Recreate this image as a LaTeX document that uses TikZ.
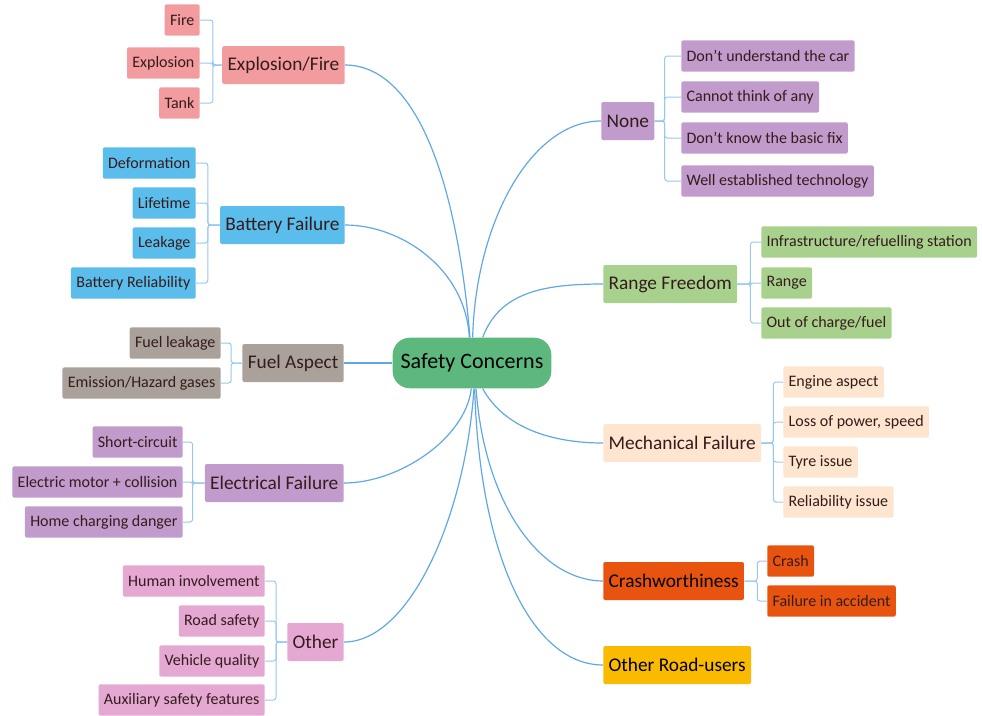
\documentclass[tikz,border=0pt]{standalone}
\usepackage{fontspec}
\setmainfont{Carlito}
\definecolor{hubgreen}{RGB}{92,184,124}
\definecolor{firepink}{RGB}{242,156,160}
\definecolor{battblue}{RGB}{91,189,235}
\definecolor{fuelgray}{RGB}{169,161,154}
\definecolor{elecpurple}{RGB}{192,155,204}
\definecolor{otherpink}{RGB}{228,168,210}
\definecolor{rangegreen}{RGB}{169,209,142}
\definecolor{mechpeach}{RGB}{253,229,207}
\definecolor{crashred}{RGB}{232,84,15}
\definecolor{roadyellow}{RGB}{250,186,0}
\definecolor{txtbrown}{RGB}{52,28,28}
\definecolor{linkblue}{RGB}{95,168,232}
\definecolor{bracketblue}{RGB}{150,200,240}
\begin{document}
\begin{tikzpicture}[x=0.75pt,y=-0.75pt]
    \tikzset{
        hub/.style={fill=hubgreen, rounded corners=13pt, minimum height=38pt, inner xsep=6pt, font=\fontsize{16.5}{20}\selectfont, text=black},
        topic/.style={rounded corners=1.5pt, minimum height=28.5pt, inner xsep=4pt, font=\fontsize{14.5}{17}\selectfont, text=txtbrown},
        sub/.style={rounded corners=1.5pt, minimum height=23.5pt, inner xsep=4pt, font=\fontsize{12}{14}\selectfont, text=txtbrown},
        branch/.style={draw=linkblue, line width=0.9pt},
        bracket/.style={draw=bracketblue, line width=0.75pt, rounded corners=2pt}
    }
    \useasboundingbox (0,0) rectangle (982,715);
    % centre
    \node[hub] (sc) at (472,363) {Safety Concerns};
    % left topics
    \node[topic, fill=firepink, anchor=east] (expl) at (345,65) {Explosion/Fire};
    \node[topic, fill=battblue, anchor=east] (batt) at (345,225) {Battery Failure};
    \node[topic, fill=fuelgray, anchor=east] (fuel) at (344,363) {Fuel Aspect};
    \node[topic, fill=elecpurple, anchor=east] (elec) at (344,483) {Electrical Failure};
    \node[topic, fill=otherpink, anchor=east] (other) at (344,642) {Other};
    % right topics
    \node[topic, fill=elecpurple, anchor=west] (none) at (601,121) {None};
    \node[topic, fill=rangegreen, anchor=west] (range) at (603,284) {Range Freedom};
    \node[topic, fill=mechpeach, anchor=west] (mech) at (603,443) {Mechanical Failure};
    \node[topic, fill=crashred, anchor=west, text=black] (crash) at (603,581) {Crashworthiness};
    \node[topic, fill=roadyellow, anchor=west, text=black] (road) at (603,665) {Other Road-users};
    % explosion/fire items
    \node[sub, fill=firepink, anchor=east] (fire) at (200,20) {Fire};
    \node[sub, fill=firepink, anchor=east] (blast) at (200,63) {Explosion};
    \node[sub, fill=firepink, anchor=east] (tank) at (200,103) {Tank};
    % battery items
    \node[sub, fill=battblue, anchor=east] (deform) at (196,163) {Deformation};
    \node[sub, fill=battblue, anchor=east] (life) at (196,203) {Lifetime};
    \node[sub, fill=battblue, anchor=east] (leak) at (196,243) {Leakage};
    \node[sub, fill=battblue, anchor=east] (brel) at (196,283) {Battery Reliability};
    % fuel items
    \node[sub, fill=fuelgray, anchor=east] (fleak) at (221,343) {Fuel leakage};
    \node[sub, fill=fuelgray, anchor=east] (gases) at (221,383) {Emission/Hazard gases};
    % electrical items
    \node[sub, fill=elecpurple, anchor=east] (short) at (183,442) {Short-circuit};
    \node[sub, fill=elecpurple, anchor=east] (motor) at (183,482) {Electric motor + collision};
    \node[sub, fill=elecpurple, anchor=east] (home) at (183,522) {Home charging danger};
    % other items
    \node[sub, fill=otherpink, anchor=east] (human) at (265,581) {Human involvement};
    \node[sub, fill=otherpink, anchor=east] (rsafe) at (265,621) {Road safety};
    \node[sub, fill=otherpink, anchor=east] (vqual) at (265,661) {Vehicle quality};
    \node[sub, fill=otherpink, anchor=east] (aux) at (265,700) {Auxiliary safety features};
    % none items
    \node[sub, fill=elecpurple, anchor=west] (dunder) at (681,56) {Don't understand the car};
    \node[sub, fill=elecpurple, anchor=west] (cthink) at (681,97) {Cannot think of any};
    \node[sub, fill=elecpurple, anchor=west] (dfix) at (681,138) {Don't know the basic fix};
    \node[sub, fill=elecpurple, anchor=west] (wtech) at (681,181) {Well established technology};
    % range items
    \node[sub, fill=rangegreen, anchor=west] (infra) at (761,242) {Infrastructure/refuelling station};
    \node[sub, fill=rangegreen, anchor=west] (rng) at (761,283) {Range};
    \node[sub, fill=rangegreen, anchor=west] (charge) at (761,323) {Out of charge/fuel};
    % mechanical items
    \node[sub, fill=mechpeach, anchor=west] (engine) at (783,382) {Engine aspect};
    \node[sub, fill=mechpeach, anchor=west] (power) at (783,422) {Loss of power, speed};
    \node[sub, fill=mechpeach, anchor=west] (tyre) at (783,462) {Tyre issue};
    \node[sub, fill=mechpeach, anchor=west] (mrel) at (783,502) {Reliability issue};
    % crash items
    \node[sub, fill=crashred, anchor=west] (crsh) at (767,561) {Crash};
    \node[sub, fill=crashred, anchor=west] (fail) at (767,601) {Failure in accident};
    % branches from the centre
    \draw[branch] ([xshift=-1.5pt]sc.north) .. controls +(-15,-175) and +(65,0) .. (expl.east);
    \draw[branch] ([xshift=-2pt]sc.north) .. controls +(-4,-70) and +(55,0) .. (batt.east);
    \draw[branch] (sc.west) -- (fuel.east);
    \draw[branch] ([xshift=-0.5pt]sc.south) .. controls +(-6,50) and +(55,0) .. (elec.east);
    \draw[branch] ([xshift=1.5pt]sc.south) .. controls +(-9,130) and +(65,0) .. (other.east);
    \draw[branch] ([xshift=0.5pt]sc.north) .. controls +(3,-115) and +(-70,0) .. (none.west);
    \draw[branch] ([xshift=8pt]sc.north) .. controls +(17,-45) and +(-60,0) .. (range.west);
    \draw[branch] ([xshift=8pt]sc.south) .. controls +(22,40) and +(-50,0) .. (mech.west);
    \draw[branch] ([xshift=3pt]sc.south) .. controls +(9,120) and +(-60,0) .. (crash.west);
    \draw[branch] ([xshift=2pt]sc.south) .. controls +(5,170) and +(-70,0) .. (road.west);
    % brackets to the items
    \draw[bracket] (expl.west) -- ++(-9,0) |- (fire.east);
    \draw[bracket] (expl.west) -- ++(-9,0) |- (blast.east);
    \draw[bracket] (expl.west) -- ++(-9,0) |- (tank.east);
    \draw[bracket] (batt.west) -- ++(-12,0) |- (deform.east);
    \draw[bracket] (batt.west) -- ++(-12,0) |- (life.east);
    \draw[bracket] (batt.west) -- ++(-12,0) |- (leak.east);
    \draw[bracket] (batt.west) -- ++(-12,0) |- (brel.east);
    \draw[bracket] (fuel.west) -- ++(-11,0) |- (fleak.east);
    \draw[bracket] (fuel.west) -- ++(-11,0) |- (gases.east);
    \draw[bracket] (elec.west) -- ++(-12,0) |- (short.east);
    \draw[bracket] (elec.west) -- ++(-12,0) |- (motor.east);
    \draw[bracket] (elec.west) -- ++(-12,0) |- (home.east);
    \draw[bracket] (other.west) -- ++(-11,0) |- (human.east);
    \draw[bracket] (other.west) -- ++(-11,0) |- (rsafe.east);
    \draw[bracket] (other.west) -- ++(-11,0) |- (vqual.east);
    \draw[bracket] (other.west) -- ++(-11,0) |- (aux.east);
    \draw[bracket] (none.east) -- ++(10,0) |- (dunder.west);
    \draw[bracket] (none.east) -- ++(10,0) |- (cthink.west);
    \draw[bracket] (none.east) -- ++(10,0) |- (dfix.west);
    \draw[bracket] (none.east) -- ++(10,0) |- (wtech.west);
    \draw[bracket] (range.east) -- ++(13,0) |- (infra.west);
    \draw[bracket] (range.east) -- ++(13,0) |- (rng.west);
    \draw[bracket] (range.east) -- ++(13,0) |- (charge.west);
    \draw[bracket] (mech.east) -- ++(12,0) |- (engine.west);
    \draw[bracket] (mech.east) -- ++(12,0) |- (power.west);
    \draw[bracket] (mech.east) -- ++(12,0) |- (tyre.west);
    \draw[bracket] (mech.east) -- ++(12,0) |- (mrel.west);
    \draw[bracket] (crash.east) -- ++(13,0) |- (crsh.west);
    \draw[bracket] (crash.east) -- ++(13,0) |- (fail.west);
\end{tikzpicture}
\end{document}
